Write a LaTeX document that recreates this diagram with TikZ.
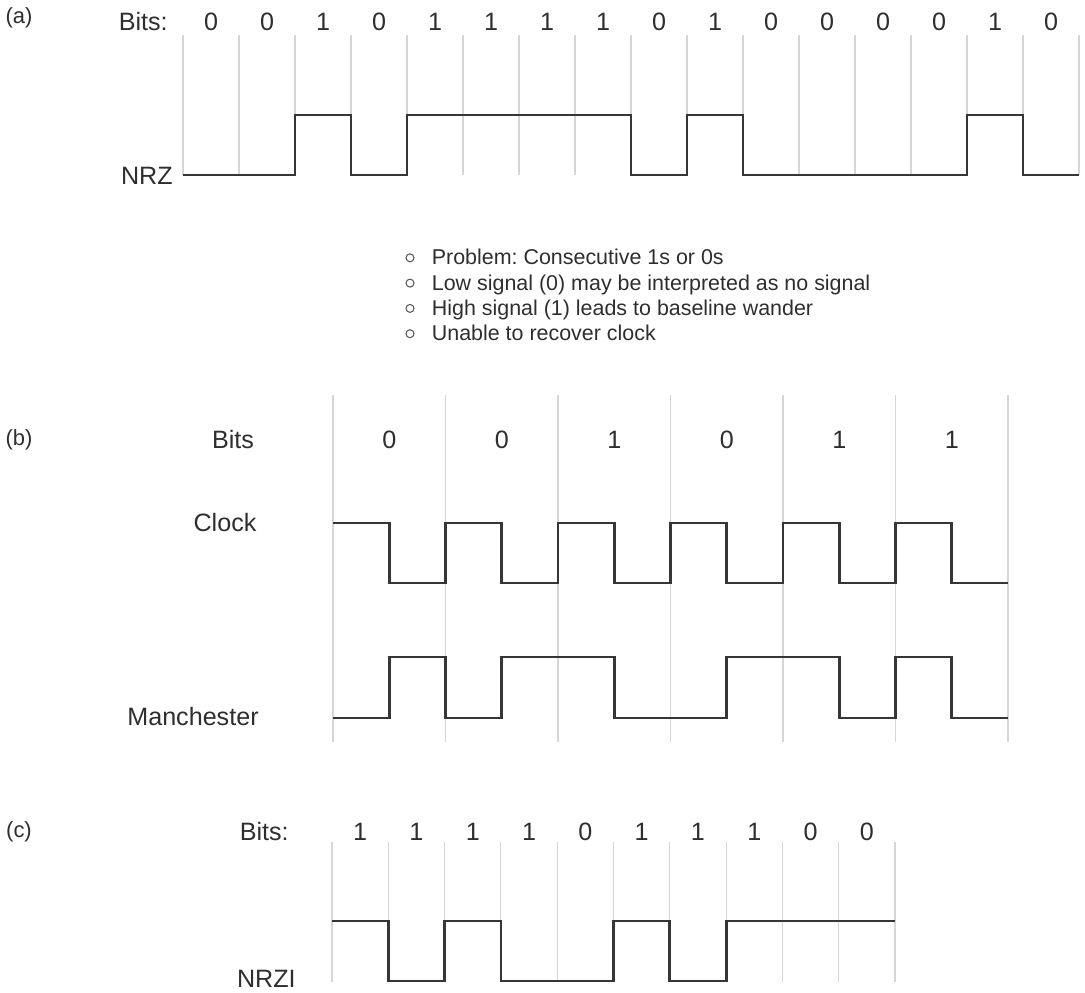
\documentclass[tikz,border=0pt]{standalone}
\usepackage{fontspec}
\setmainfont{Liberation Sans}
\usetikzlibrary{positioning}
\definecolor{signalgray}{HTML}{363636}
\definecolor{gridgray}{HTML}{D6D6D6}
\definecolor{textgray}{HTML}{2E2E2E}
\frenchspacing

\begin{document}
\begin{tikzpicture}[x=0.02cm, y=-0.02cm,
    gridline/.style={draw=gridgray, line width=0.6pt},
    signal/.style={draw=signalgray, line width=1.6pt},
    bitlabel/.style={font=\fontsize{14.3}{16}\selectfont, text=textgray, inner sep=0pt, text height=10pt, text depth=0pt},
    signame/.style={bitlabel},
    panel/.style={font=\fontsize{12.5}{14}\selectfont, text=textgray, inner sep=0pt},
    note/.style={font=\fontsize{12.2}{14}\selectfont, text=textgray, inner sep=0pt, text height=9pt, text depth=1pt},
    dot/.style={circle, draw=textgray!80, line width=0.6pt, minimum size=0.16cm, inner sep=0pt}]
\useasboundingbox (0,0) rectangle (1085,992);

% (a) NRZ
\node[panel] (pa) at (19,18) {(a)};
\node[bitlabel, anchor=east] (bitsa) at (168,22) {Bits:};
\foreach \i in {0,...,16}
    \draw[gridline] ({183+56*\i},35) -- ({183+56*\i},175);
\foreach \b [count=\i] in {0,0,1,0,1,1,1,1,0,1,0,0,0,0,1,0}
    \node[bitlabel] (abit\i) at ({155+56*\i},22) {\b};
\node[signame, anchor=east] (nrz) at (173,176) {NRZ};
\draw[signal] (183,175) -- (295,175) -- (295,115) -- (351,115) -- (351,175)
    -- (407,175) -- (407,115) -- (631,115) -- (631,175) -- (687,175) -- (687,115)
    -- (743,115) -- (743,175) -- (967,175) -- (967,115) -- (1023,115) -- (1023,175)
    -- (1079,175);

% problems of NRZ
\foreach \t [count=\i] in {Problem: Consecutive 1s or 0s,
        Low signal (0) may be interpreted as no signal,
        High signal (1) leads to baseline wander,
        Unable to recover clock} {
    \node[dot] (dot\i) at (410,{232.5+25.3*\i}) {};
    \node[note, right=0.34cm of dot\i] (note\i) {\t};
}

% (b) Manchester
\node[panel] (pb) at (19,440) {(b)};
\node[bitlabel] (bitsb) at (233,440) {Bits};
\foreach \i in {0,...,6}
    \draw[gridline] ({333+112.5*\i},395) -- ++(0,347);
\foreach \b [count=\i] in {0,0,1,0,1,1}
    \node[bitlabel] (bbit\i) at ({276.75+112.5*\i},440) {\b};
\node[signame] (clock) at (225,523) {Clock};
\draw[signal] (333,523) \foreach \i in {1,...,5} {
        -- ++(56.25,0) -- ++(0,60) -- ++(56.25,0) -- ++(0,-60)}
    -- ++(56.25,0) -- ++(0,60) -- ++(56.25,0);
\node[signame] (manch) at (193,717) {Manchester};
\draw[signal] (333,718) -- (389.25,718) -- (389.25,657) -- (445.5,657)
    -- (445.5,718) -- (501.75,718) -- (501.75,657) -- (614.25,657) -- (614.25,718)
    -- (726.75,718) -- (726.75,657) -- (839.25,657) -- (839.25,718) -- (895.5,718)
    -- (895.5,657) -- (951.75,657) -- (951.75,718) -- (1008,718);

% (c) NRZI
\node[panel] (pc) at (19,832) {(c)};
\node[bitlabel, anchor=east] (bitsc) at (289,832) {Bits:};
\foreach \i in {0,...,10}
    \draw[gridline] ({332+56.3*\i},842) -- ++(0,140);
\foreach \b [count=\i] in {1,1,1,1,0,1,1,1,0,0}
    \node[bitlabel] (cbit\i) at ({303.85+56.3*\i},832) {\b};
\node[signame, anchor=east] (nrzi) at (296,979) {NRZI};
\draw[signal] (332,921) -- (388.3,921) -- (388.3,981) -- (444.6,981)
    -- (444.6,921) -- (500.9,921) -- (500.9,981) -- (613.5,981) -- (613.5,921)
    -- (669.8,921) -- (669.8,981) -- (726.1,981) -- (726.1,921) -- (895,921);
\end{tikzpicture}
\end{document}
